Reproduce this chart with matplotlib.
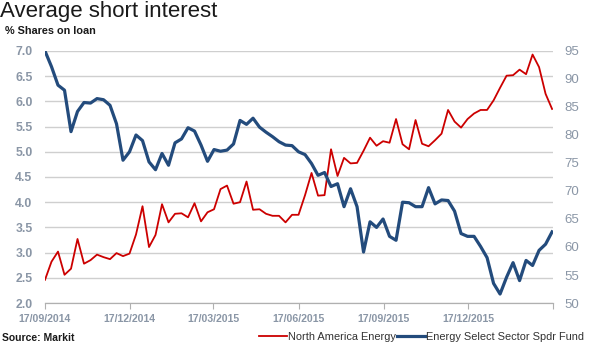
import numpy as np
import pandas as pd
import matplotlib
matplotlib.use("Agg")
import matplotlib.pyplot as plt

plt.rcParams['font.family'] = ['Liberation Sans', 'DejaVu Sans']

# weekly observations, 17/09/2014 .. 16/03/2016
dates = pd.date_range("2014-09-17", periods=79, freq="7D")

# North America Energy, % shares on loan (left axis)
north_america = [2.46, 2.82, 3.02, 2.56, 2.68, 3.27, 2.78, 2.85, 2.96, 2.91,
                 2.87, 2.99, 2.93, 2.98, 3.36, 3.92, 3.11, 3.35, 3.96, 3.60,
                 3.77, 3.78, 3.70, 3.98, 3.62, 3.80, 3.86, 4.26, 4.33, 3.97,
                 4.00, 4.41, 3.85, 3.86, 3.77, 3.73, 3.73, 3.60, 3.75, 3.75,
                 4.14, 4.58, 4.13, 4.14, 5.05, 4.52, 4.88, 4.77, 4.78, 5.02,
                 5.28, 5.12, 5.21, 5.18, 5.65, 5.15, 5.05, 5.63, 5.16, 5.11,
                 5.23, 5.36, 5.83, 5.60, 5.48, 5.65, 5.76, 5.83, 5.83, 6.02,
                 6.27, 6.51, 6.52, 6.63, 6.54, 6.93, 6.68, 6.15, 5.85]

# Energy Select Sector Spdr Fund, % shares on loan (right axis)
energy_spdr = [95.0, 92.2, 88.9, 88.0, 80.6, 84.2, 85.8, 85.7, 86.5, 86.3,
               85.3, 82.0, 75.5, 77.0, 80.0, 79.0, 75.2, 73.8, 76.7, 74.6,
               78.6, 79.3, 81.3, 80.7, 78.2, 75.3, 77.4, 77.1, 77.3, 78.4,
               82.6, 81.9, 83.0, 81.4, 80.5, 79.7, 78.8, 78.2, 78.1, 77.0,
               76.5, 74.9, 72.8, 73.3, 70.8, 71.3, 67.2, 70.4, 67.2, 59.1,
               64.5, 63.5, 65.0, 61.9, 61.2, 68.0, 67.9, 67.2, 67.2, 70.6,
               67.7, 68.4, 68.3, 66.4, 62.4, 61.9, 61.9, 60.1, 58.1, 53.5,
               51.6, 54.6, 57.2, 54.0, 57.6, 56.7, 59.4, 60.5, 62.7]

tick_dates = pd.to_datetime(["2014-09-17", "2014-12-17", "2015-03-17", "2015-06-17",
                             "2015-09-17", "2015-12-17", "2016-03-17"])
tick_labels = ["17/09/2014", "17/12/2014", "17/03/2015", "17/06/2015",
               "17/09/2015", "17/12/2015", ""]

red = '#CC0000'
blue = '#234B7C'
grey = '#8a96a6'

fig = plt.figure(figsize=(5.9, 3.55), dpi=100)
ax = fig.add_axes([45 / 590, 1 - 303 / 355, 508 / 590, 252 / 355])
ax2 = ax.twinx()

ax.plot(dates, north_america, color=red, linewidth=1.3, label='North America Energy')
ax2.plot(dates, energy_spdr, color=blue, linewidth=2.3, label='Energy Select Sector Spdr Fund')

ax.set_ylim(2, 7)
ax.set_yticks(np.arange(2, 7.01, 0.5))
ax.set_yticklabels([f"{v:.1f}" for v in np.arange(2, 7.01, 0.5)])
ax2.set_ylim(50, 95)
ax2.set_yticks(np.arange(50, 96, 5))

ax.set_xlim(tick_dates[0], tick_dates[-1])
ax.set_xticks(tick_dates)
ax.set_xticklabels(tick_labels)

ax.grid(axis='y', color='#cfcfcf', linewidth=1.0)
ax.set_axisbelow(True)
for a in (ax, ax2):
    for s in ('left', 'right', 'top'):
        a.spines[s].set_visible(False)
    a.spines['bottom'].set_color('#b0b0b0')

ax.tick_params(axis='y', length=0, pad=9, labelsize=8.8, labelcolor=grey)
ax2.tick_params(axis='y', length=0, pad=8, labelsize=9.5, labelcolor=grey)
ax.tick_params(axis='x', length=4, width=0.8, color='#b0b0b0', pad=4,
               labelsize=7.6, labelcolor=grey)
for lbl in ax.get_yticklabels() + ax.get_xticklabels():
    lbl.set_fontweight('bold')

fig.text(0.0, 1 - 17 / 355, "Average short interest", fontsize=16,
         color='#1a1a1a', ha='left', va='baseline')
fig.text(5 / 590, 1 - 34 / 355, "% Shares on loan", fontsize=7.8,
         fontweight='bold', color='#1a1a1a', ha='left', va='baseline')
fig.text(2 / 590, 1 - 341 / 355, "Source: Markit", fontsize=7.5,
         fontweight='bold', color='#1a1a1a', ha='left', va='baseline')

h1, l1 = ax.get_legend_handles_labels()
h2, l2 = ax2.get_legend_handles_labels()
fig.legend(h1 + h2, l1 + l2, loc='center right', bbox_to_anchor=(584 / 590, 1 - 337 / 355),
           ncol=2, frameon=False, fontsize=7.9, handlelength=2.6, handletextpad=0.05,
           columnspacing=0.1, borderaxespad=0, borderpad=0, labelcolor='#333333')

fig.savefig("out.png", dpi=100)
